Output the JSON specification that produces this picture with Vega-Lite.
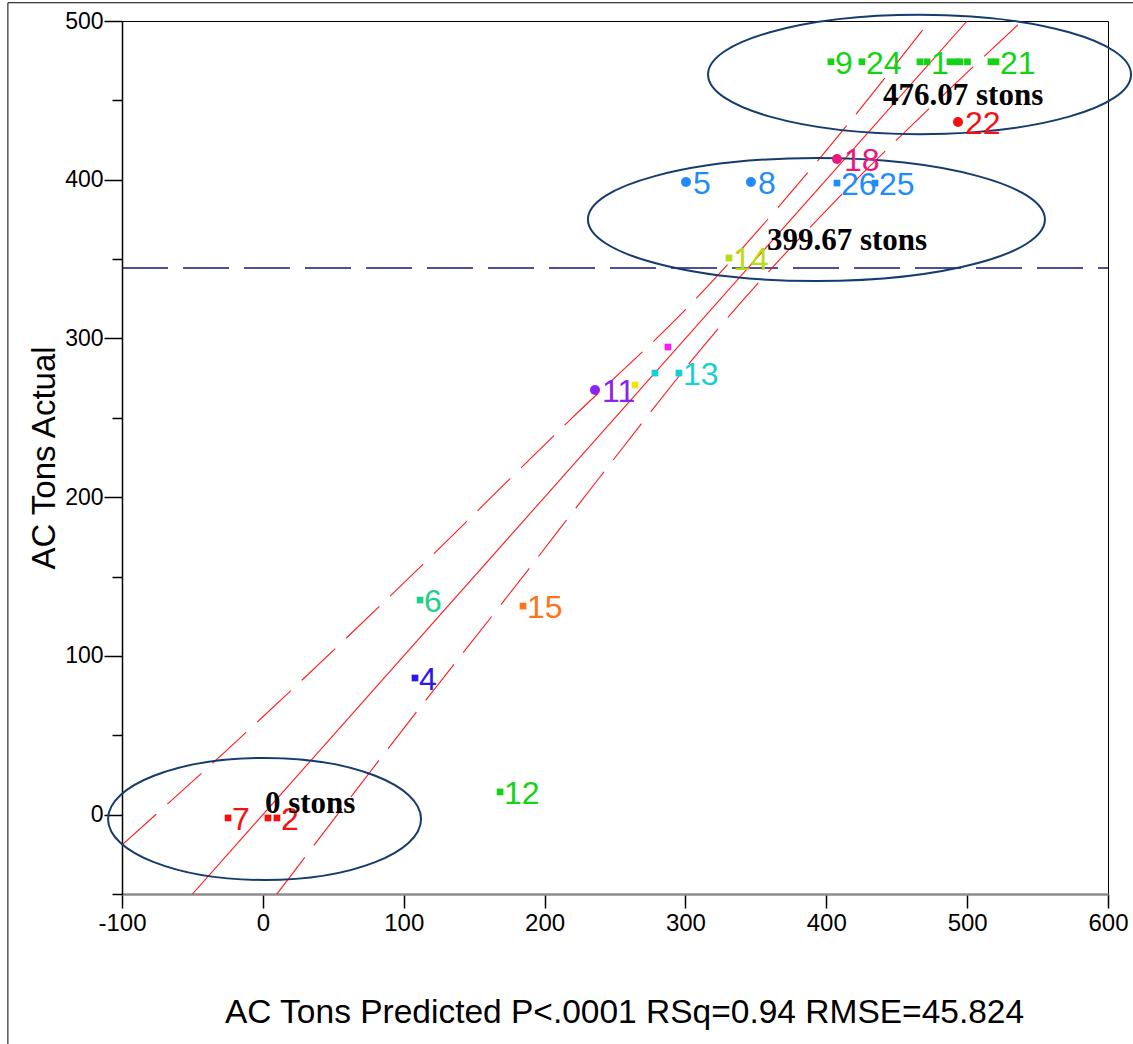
{
  "$schema": "https://vega.github.io/schema/vega-lite/v6.json",
  "width": 986,
  "height": 873,
  "autosize": "none",
  "padding": {"left": 122, "top": 21, "right": 25, "bottom": 150},
  "background": "white",
  "config": {
    "view": {"stroke": "#000000", "strokeWidth": 1},
    "font": "Liberation Sans",
    "axis": {"grid": false, "labelFont": "Liberation Sans", "titleFont": "Liberation Sans", "labelColor": "#000000", "titleColor": "#000000", "tickColor": "#000000", "titleFontWeight": "normal"}
  },
  "encoding": {
    "x": {
      "field": "x", "type": "quantitative",
      "scale": {"domain": [-100, 600], "nice": false, "zero": false},
      "axis": {
        "title": "AC Tons Predicted P<.0001 RSq=0.94 RMSE=45.824",
        "titleFontSize": 33.5, "titlePadding": 61, "titleX": 502,
        "values": [-100, 0, 100, 200, 300, 400, 500, 600],
        "labelExpr": "'' + datum.value",
        "labelFontSize": 24, "labelPadding": 3, "labelFlush": false, "labelOverlap": false,
        "tickSize": 14, "tickWidth": 1.5,
        "domainColor": "#8c8c8c", "domainWidth": 2.5
      }
    },
    "y": {
      "field": "y", "type": "quantitative",
      "scale": {"domain": [-50, 500], "nice": false, "zero": false},
      "axis": {
        "title": "AC Tons Actual",
        "titleFontSize": 33, "titlePadding": 3,
        "values": [-50, 0, 50, 100, 150, 200, 250, 300, 350, 400, 450, 500],
        "labelExpr": "datum.value % 100 === 0 ? '' + datum.value : ''",
        "labelFontSize": 23, "labelPadding": 1, "labelOverlap": false,
        "tickSize": {"condition": {"test": "datum.value % 100 === 0", "value": 18}, "value": 10},
        "tickWidth": 1.5,
        "domainColor": "#000000", "domainWidth": 1.5
      }
    },
    "color": {
      "field": "id", "type": "nominal", "legend": null,
      "scale": {
        "domain": ["9", "24", "u1", "1", "u2", "u3", "u4", "u5", "u6", "21", "22", "18", "5", "8", "26", "25", "14", "11", "u7", "u8", "u9", "13", "6", "15", "4", "12", "7", "u10", "2"],
        "range": ["#14d214", "#14d214", "#14d214", "#14d214", "#14d214", "#14d214", "#14d214", "#14d214", "#14d214", "#14d214", "#f51010", "#e8187e", "#1e8cff", "#1e8cff", "#1e8cff", "#1e8cff", "#b8dc10", "#8a22f2", "#f2e20e", "#14d0d0", "#f41cf4", "#14d0d0", "#1ed08c", "#ff7316", "#2a18f2", "#14d214", "#f51010", "#f51010", "#f51010"]
      }
    }
  },
  "layer": [
    {
      "data": {"values": [
        {"x": -181, "y": 511.5, "x2": -181, "y2": -170},
        {"x": -181, "y": 511.5, "x2": 640, "y2": 511.5}
      ]},
      "mark": {"type": "rule", "clip": false, "strokeWidth": 1},
      "encoding": {"x2": {"field": "x2"}, "y2": {"field": "y2"}, "color": {"value": "#000000"}}
    },
    {
      "data": {"values": [{"x": -100, "y": 344.4}, {"x": 600, "y": 344.4}]},
      "mark": {"type": "line", "strokeWidth": 1.3, "strokeDash": [46, 15], "clip": true},
      "encoding": {"color": {"value": "#14147a"}}
    },
    {
      "data": {"values": [{"x": -50, "y": -50}, {"x": 500, "y": 500}]},
      "mark": {"type": "line", "strokeWidth": 1.1, "clip": true},
      "encoding": {"color": {"value": "#ff1a1a"}}
    },
    {
      "data": {"values": [
        {"x": -100, "y": -19.1, "curve": "upper"},
        {"x": -25.5, "y": 40.7, "curve": "upper"},
        {"x": 103.0, "y": 148.5, "curve": "upper"},
        {"x": 218.0, "y": 248.6, "curve": "upper"},
        {"x": 301.8, "y": 319.8, "curve": "upper"},
        {"x": 388.4, "y": 406.1, "curve": "upper"},
        {"x": 473.5, "y": 500, "curve": "upper"},
        {"x": 10.0, "y": -50, "curve": "lower"},
        {"x": 88.1, "y": 40.7, "curve": "lower"},
        {"x": 188.2, "y": 154.1, "curve": "lower"},
        {"x": 239.3, "y": 212.7, "curve": "lower"},
        {"x": 322.4, "y": 305.3, "curve": "lower"},
        {"x": 411.9, "y": 391.6, "curve": "lower"},
        {"x": 475.7, "y": 447.1, "curve": "lower"},
        {"x": 539.0, "y": 500, "curve": "lower"}
      ]},
      "mark": {"type": "line", "strokeWidth": 1.1, "strokeDash": [46, 15], "interpolate": "monotone", "clip": true},
      "encoding": {"detail": {"field": "curve"}, "color": {"value": "#ff1a1a"}}
    },
    {
      "data": {"values": [{"x": 466.2, "y": 466.3}]},
      "mark": {"type": "point", "filled": false, "clip": false, "strokeWidth": 2, "opacity": 1, "size": 178929,
        "shape": "M -1 0 C -1 -0.1557 -0.5523 -0.282 0 -0.282 C 0.5523 -0.282 1 -0.1557 1 0 C 1 0.1557 0.5523 0.282 0 0.282 C -0.5523 0.282 -1 0.1557 -1 0 Z"},
      "encoding": {"color": {"value": "#143c6e"}}
    },
    {
      "data": {"values": [{"x": 393.0, "y": 374.9}]},
      "mark": {"type": "point", "filled": false, "clip": false, "strokeWidth": 2, "opacity": 1, "size": 208849,
        "shape": "M -1 0 C -1 -0.1487 -0.5523 -0.269 0 -0.269 C 0.5523 -0.269 1 -0.1487 1 0 C 1 0.1487 0.5523 0.269 0 0.269 C -0.5523 0.269 -1 0.1487 -1 0 Z"},
      "encoding": {"color": {"value": "#143c6e"}}
    },
    {
      "data": {"values": [{"x": 1.2, "y": -2.7}]},
      "mark": {"type": "point", "filled": false, "clip": false, "strokeWidth": 2, "opacity": 1, "size": 97969,
        "shape": "M -1 0 C -1 -0.2153 -0.5523 -0.39 0 -0.39 C 0.5523 -0.39 1 -0.2153 1 0 C 1 0.2153 0.5523 0.39 0 0.39 C -0.5523 0.39 -1 0.2153 -1 0 Z"},
      "encoding": {"color": {"value": "#143c6e"}}
    },
    {
      "data": {"name": "pts"},
      "transform": [{"filter": "datum.marker === 'circle'"}],
      "mark": {"type": "point", "shape": "circle", "filled": true, "opacity": 1, "size": 100}
    },
    {
      "data": {"name": "pts"},
      "transform": [{"filter": "datum.marker === 'square'"}],
      "mark": {"type": "point", "shape": "square", "filled": true, "opacity": 1, "size": 45}
    },
    {
      "data": {"name": "pts"},
      "transform": [{"filter": "datum.marker === 'circle'"}],
      "mark": {"type": "text", "align": "left", "baseline": "middle", "dx": 7, "dy": 2, "fontSize": 32, "font": "Liberation Sans"},
      "encoding": {"text": {"field": "label"}}
    },
    {
      "data": {"name": "pts"},
      "transform": [{"filter": "datum.marker === 'square'"}],
      "mark": {"type": "text", "align": "left", "baseline": "middle", "dx": 4, "dy": 2, "fontSize": 32, "font": "Liberation Sans"},
      "encoding": {"text": {"field": "label"}}
    },
    {
      "data": {"values": [
        {"x": 440.3, "y": 447.1, "note": "476.07 stons"},
        {"x": 357.9, "y": 355.7, "note": "399.67 stons"},
        {"x": 1.5, "y": 1.0, "note": "0 stons"}
      ]},
      "mark": {"type": "text", "align": "left", "baseline": "alphabetic", "fontSize": 31, "font": "Liberation Serif", "fontWeight": "bold"},
      "encoding": {"text": {"field": "note"}, "color": {"value": "#000000"}}
    }
  ],
  "datasets": {
    "pts": [
      {"x": 403.3, "y": 474.3, "id": "9", "label": "9", "marker": "square"},
      {"x": 425.3, "y": 474.3, "id": "24", "label": "24", "marker": "square"},
      {"x": 466.5, "y": 474.3, "id": "u1", "label": "", "marker": "square"},
      {"x": 471.5, "y": 474.3, "id": "1", "label": "1", "marker": "square"},
      {"x": 487.8, "y": 474.3, "id": "u2", "label": "", "marker": "square"},
      {"x": 492.1, "y": 474.3, "id": "u3", "label": "", "marker": "square"},
      {"x": 494.9, "y": 474.3, "id": "u4", "label": "", "marker": "square"},
      {"x": 500.2, "y": 474.3, "id": "u5", "label": "", "marker": "square"},
      {"x": 516.9, "y": 474.3, "id": "u6", "label": "", "marker": "square"},
      {"x": 520.5, "y": 474.3, "id": "21", "label": "21", "marker": "square"},
      {"x": 493.5, "y": 436.4, "id": "22", "label": "22", "marker": "circle"},
      {"x": 407.6, "y": 413.1, "id": "18", "label": "18", "marker": "circle"},
      {"x": 300.4, "y": 398.6, "id": "5", "label": "5", "marker": "circle"},
      {"x": 346.5, "y": 398.6, "id": "8", "label": "8", "marker": "circle"},
      {"x": 407.6, "y": 397.9, "id": "26", "label": "26", "marker": "square"},
      {"x": 434.6, "y": 397.9, "id": "25", "label": "25", "marker": "square"},
      {"x": 330.9, "y": 350.7, "id": "14", "label": "14", "marker": "square"},
      {"x": 235.8, "y": 267.5, "id": "11", "label": "11", "marker": "circle"},
      {"x": 264.2, "y": 270.7, "id": "u7", "label": "", "marker": "square"},
      {"x": 278.4, "y": 278.2, "id": "u8", "label": "", "marker": "square"},
      {"x": 287.6, "y": 294.6, "id": "u9", "label": "", "marker": "square"},
      {"x": 295.4, "y": 278.2, "id": "13", "label": "13", "marker": "square"},
      {"x": 111.6, "y": 135.2, "id": "6", "label": "6", "marker": "square"},
      {"x": 184.7, "y": 131.4, "id": "15", "label": "15", "marker": "square"},
      {"x": 108.0, "y": 86.1, "id": "4", "label": "4", "marker": "square"},
      {"x": 168.4, "y": 14.3, "id": "12", "label": "12", "marker": "square"},
      {"x": -24.7, "y": -2.1, "id": "7", "label": "7", "marker": "square"},
      {"x": 3.6, "y": -2.1, "id": "u10", "label": "", "marker": "square"},
      {"x": 10.0, "y": -2.1, "id": "2", "label": "2", "marker": "square"}
    ]
  }
}
